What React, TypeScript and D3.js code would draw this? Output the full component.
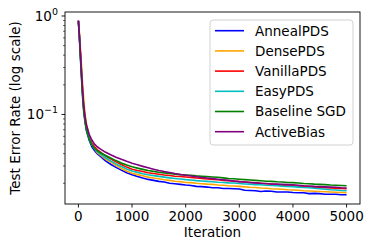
import React from "react";
import * as d3 from "d3";

const iterations = [0, 20, 40, 60, 80, 100, 125, 150, 200, 250, 300, 350, 400, 500, 600, 700, 800, 900, 1000, 1100, 1200, 1300, 1400, 1500, 1600, 1700, 1800, 1900, 2000, 2100, 2200, 2300, 2400, 2500, 2600, 2700, 2800, 2900, 3000, 3100, 3200, 3300, 3400, 3500, 3600, 3700, 3800, 3900, 4000, 4100, 4200, 4300, 4400, 4500, 4600, 4700, 4800, 4900, 5000];

const annealPDS = [0.89, 0.60, 0.38, 0.24, 0.155, 0.112, 0.085, 0.069, 0.055, 0.047, 0.043, 0.040, 0.038, 0.0340, 0.0312, 0.0290, 0.0272, 0.0256, 0.0244, 0.0234, 0.0226, 0.0219, 0.0214, 0.0209, 0.0206, 0.0200, 0.0198, 0.0195, 0.0192, 0.0190, 0.0186, 0.0185, 0.0183, 0.0180, 0.0180, 0.0177, 0.0177, 0.0176, 0.0175, 0.0170, 0.0169, 0.0168, 0.0165, 0.0167, 0.0166, 0.0163, 0.0163, 0.0163, 0.0161, 0.0160, 0.0160, 0.0157, 0.0158, 0.0157, 0.0155, 0.0155, 0.0155, 0.0153, 0.0153];
const densePDS = [0.88, 0.66, 0.45, 0.30, 0.20, 0.14, 0.10, 0.080, 0.061, 0.050, 0.045, 0.041, 0.039, 0.0355, 0.0328, 0.0305, 0.0283, 0.0266, 0.0253, 0.0245, 0.0238, 0.0231, 0.0226, 0.0222, 0.0217, 0.0214, 0.0210, 0.0208, 0.0204, 0.0203, 0.0200, 0.0198, 0.0196, 0.0195, 0.0192, 0.0191, 0.0189, 0.0188, 0.0186, 0.0184, 0.0182, 0.0181, 0.0179, 0.0178, 0.0176, 0.0175, 0.0174, 0.0172, 0.0171, 0.0170, 0.0168, 0.0167, 0.0166, 0.0165, 0.0164, 0.0163, 0.0162, 0.0161, 0.0160];
const vanillaPDS = [0.90, 0.61, 0.39, 0.25, 0.16, 0.115, 0.088, 0.073, 0.059, 0.051, 0.047, 0.044, 0.042, 0.038, 0.0355, 0.0330, 0.0310, 0.0292, 0.0278, 0.0270, 0.0263, 0.0256, 0.0251, 0.0247, 0.0243, 0.0240, 0.0236, 0.0234, 0.0232, 0.0229, 0.0226, 0.0224, 0.0221, 0.0219, 0.0217, 0.0214, 0.0212, 0.0210, 0.0208, 0.0206, 0.0204, 0.0202, 0.0200, 0.0198, 0.0196, 0.0194, 0.0192, 0.0190, 0.0189, 0.0187, 0.0186, 0.0184, 0.0183, 0.0181, 0.0180, 0.0179, 0.0178, 0.0177, 0.0176];
const easyPDS = [0.89, 0.60, 0.38, 0.24, 0.155, 0.112, 0.086, 0.071, 0.057, 0.049, 0.045, 0.042, 0.040, 0.0365, 0.0338, 0.0315, 0.0296, 0.0280, 0.0266, 0.0258, 0.0250, 0.0244, 0.0239, 0.0235, 0.0231, 0.0227, 0.0224, 0.0221, 0.0218, 0.0216, 0.0213, 0.0211, 0.0209, 0.0207, 0.0205, 0.0204, 0.0202, 0.0201, 0.0199, 0.0197, 0.0196, 0.0194, 0.0193, 0.0191, 0.0190, 0.0189, 0.0187, 0.0186, 0.0185, 0.0183, 0.0181, 0.0180, 0.0178, 0.0176, 0.0174, 0.0172, 0.0171, 0.0169, 0.0168];
const baselineSGD = [0.88, 0.57, 0.35, 0.22, 0.145, 0.105, 0.082, 0.069, 0.056, 0.049, 0.045, 0.043, 0.041, 0.0385, 0.0362, 0.0340, 0.0322, 0.0306, 0.0294, 0.0285, 0.0277, 0.0270, 0.0264, 0.0259, 0.0255, 0.0251, 0.0248, 0.0245, 0.0243, 0.0241, 0.0238, 0.0236, 0.0234, 0.0232, 0.0230, 0.0227, 0.0224, 0.0222, 0.0220, 0.0218, 0.0216, 0.0214, 0.0212, 0.0210, 0.0209, 0.0207, 0.0206, 0.0204, 0.0203, 0.0201, 0.0199, 0.0198, 0.0196, 0.0195, 0.0194, 0.0192, 0.0191, 0.0190, 0.0189];
const activeBias = [0.90, 0.62, 0.40, 0.26, 0.17, 0.122, 0.094, 0.078, 0.063, 0.055, 0.050, 0.047, 0.045, 0.0415, 0.0390, 0.0368, 0.0350, 0.0334, 0.0320, 0.0308, 0.0297, 0.0287, 0.0278, 0.0270, 0.0263, 0.0257, 0.0251, 0.0246, 0.0241, 0.0237, 0.0233, 0.0229, 0.0226, 0.0223, 0.0220, 0.0217, 0.0214, 0.0211, 0.0208, 0.0206, 0.0204, 0.0202, 0.0200, 0.0199, 0.0197, 0.0196, 0.0195, 0.0194, 0.0193, 0.0191, 0.0189, 0.0188, 0.0186, 0.0185, 0.0184, 0.0183, 0.0182, 0.0180, 0.0179];

const seriesNames = ["AnnealPDS", "DensePDS", "VanillaPDS", "EasyPDS", "Baseline SGD", "ActiveBias"];
const seriesValues = [annealPDS, densePDS, vanillaPDS, easyPDS, baselineSGD, activeBias];
const seriesColors = ["#0000ff", "#ffa500", "#ff0000", "#00bfbf", "#008000", "#800080"];

const xTicks = [0, 1000, 2000, 3000, 4000, 5000];
const yMajor = [1, 0.1];
const yMinorA = [0.2, 0.3, 0.4, 0.5, 0.6, 0.7, 0.8, 0.9];
const yMinorB = [0.02, 0.03, 0.04, 0.05, 0.06, 0.07, 0.08, 0.09];
const yExponents = ["0", "\u22121"];

export default function App() {
  const W = 374, H = 249;
  const left = 65, right = 360, top = 12, bottom = 204;
  const x = d3.scaleLinear().domain([-250, 5250]).range([left, right]);
  const y = d3.scaleLog().domain([0.01232, 1.098]).range([bottom, top]);
  const line = d3.line<[number, number]>().x(d => x(d[0])).y(d => y(d[1]));
  const font = "DejaVu Sans, sans-serif";
  const fs = 13.5;
  const minor = [...yMinorA, ...yMinorB];
  const legX = 210, legY = 20, legW = 143, legH = 125;
  return (
    <svg width={W} height={H} style={{ position: "absolute", left: 0, top: 0 }} fontFamily={font}>
      <rect width={W} height={H} fill="#fff" />
      <defs>
        <clipPath id="plot"><rect x={left} y={top} width={right - left} height={bottom - top} /></clipPath>
      </defs>
      <g clipPath="url(#plot)">
        {seriesValues.map((vals, i) => (
          <path key={i} d={line(iterations.map((it, j) => [it, vals[j]] as [number, number])) || ""}
            fill="none" stroke={seriesColors[i]} strokeWidth={1.6} strokeLinejoin="round" />
        ))}
      </g>
      <rect x={left} y={top} width={right - left} height={bottom - top} fill="none" stroke="#000" strokeWidth={0.9} />
      {xTicks.map(t => (
        <g key={t}>
          <line x1={x(t)} x2={x(t)} y1={bottom} y2={bottom + 3.5} stroke="#000" strokeWidth={0.9} />
          <text x={x(t)} y={bottom + 17} fontSize={fs} textAnchor="middle">{t}</text>
        </g>
      ))}
      {yMajor.map((t, i) => (
        <g key={t}>
          <line x1={left - 3.5} x2={left} y1={y(t)} y2={y(t)} stroke="#000" strokeWidth={0.9} />
          <text x={left - 7} y={y(t) + 5} fontSize={fs} textAnchor="end">
            10<tspan fontSize={9.5} dy={-6}>{yExponents[i]}</tspan>
          </text>
        </g>
      ))}
      {minor.map(t => (
        <line key={t} x1={left - 2} x2={left} y1={y(t)} y2={y(t)} stroke="#000" strokeWidth={0.6} />
      ))}
      <text x={(left + right) / 2} y={237} fontSize={fs} textAnchor="middle">Iteration</text>
      <text transform={`translate(20,${(top + bottom) / 2}) rotate(-90)`} fontSize={fs} textAnchor="middle">Test Error Rate (log scale)</text>
      <rect x={legX} y={legY} width={legW} height={legH} rx={3} fill="#fff" fillOpacity={0.8} stroke="#cccccc" strokeWidth={0.9} />
      {seriesNames.map((n, i) => {
        const cy = legY + 10.7 + i * 20.2;
        return (
          <g key={n}>
            <line x1={215} x2={244} y1={cy} y2={cy} stroke={seriesColors[i]} strokeWidth={1.6} />
            <text x={255} y={cy + 4.8} fontSize={fs}>{n}</text>
          </g>
        );
      })}
    </svg>
  );
}
